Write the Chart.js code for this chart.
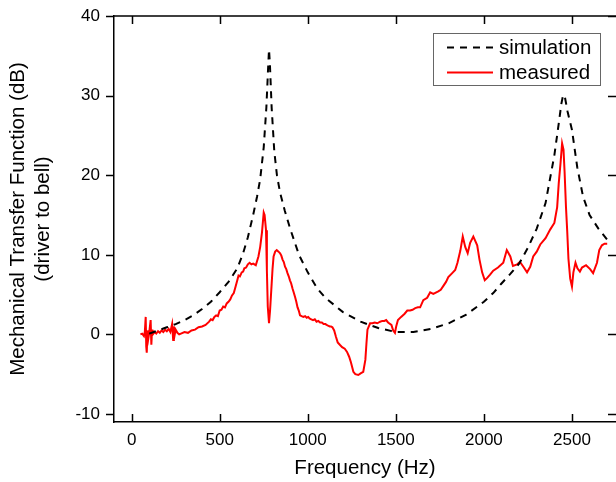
<!DOCTYPE html>
<html>
<head>
<meta charset="utf-8">
<script src="https://cdn.jsdelivr.net/npm/chart.js@4/dist/chart.umd.min.js"></script>
<style>
html,body{margin:0;padding:0;background:#fff;}
canvas{display:block;}
</style>
</head>
<body>
<canvas id="c" width="616" height="482"></canvas>
<script>
// ---- data ----
const xTicks = [0, 500, 1000, 1500, 2000, 2500];
const yTicks = [-10, 0, 10, 20, 30, 40];
const xTitle = "Frequency (Hz)";
const yTitle = ["Mechanical Transfer Function (dB)", "(driver to bell)"];
const seriesNames = ["simulation", "measured"];

const simFreq = [100,150,200,250,300,350,400,450,500,550,600,633,660,690,712,730,750,765,775,780,785,795,810,825,843,870,900,950,1000,1053,1100,1200,1300,1400,1500,1600,1700,1800,1900,2000,2053,2100,2150,2200,2250,2300,2350,2400,2425,2440,2450,2460,2475,2500,2530,2563,2600,2650,2700,2710];
const simDb = [0.1,0.5,0.9,1.3,1.8,2.4,3.2,4.1,5.3,6.6,8.3,10.2,12.2,15.0,17.3,19.5,23.5,28.5,33.5,35.8,34.0,28.5,23.0,20.0,17.8,15.5,13.3,10.0,7.8,5.8,4.6,2.8,1.6,0.8,0.3,0.3,0.7,1.4,2.5,4.1,5.2,6.4,7.6,8.9,10.9,13.3,16.5,22.5,26.5,29.0,30.1,29.8,28.0,25.7,21.0,17.3,15.0,13.3,11.9,11.6];

const measFreq = [50,60,70,75,80,83,86,90,95,100,108,112,116,120,130,140,150,160,170,180,190,200,210,220,230,236,240,245,250,260,270,280,300,320,340,360,380,400,420,440,450,460,470,480,490,500,510,520,530,540,550,560,570,580,590,600,607,615,625,633,640,650,660,670,680,690,705,720,730,740,750,755,763,768,773,780,786,793,800,806,815,824,834,843,850,857,864,871,878,885,892,899,906,913,920,928,935,942,949,956,965,975,985,994,1003,1010,1020,1030,1040,1050,1060,1070,1080,1090,1100,1107,1115,1125,1132,1140,1150,1160,1170,1182,1195,1210,1223,1235,1245,1259,1270,1287,1300,1315,1327,1333,1339,1354,1367,1380,1395,1411,1423,1435,1445,1456,1475,1485,1495,1502,1512,1530,1550,1565,1581,1595,1610,1625,1638,1656,1678,1695,1713,1741,1755,1770,1785,1798,1820,1837,1850,1866,1880,1894,1908,1922,1940,1962,1975,1990,2005,2019,2035,2053,2080,2110,2130,2150,2165,2189,2205,2224,2245,2263,2280,2300,2320,2350,2377,2400,2416,2425,2435,2444,2452,2458,2466,2473,2480,2490,2500,2508,2520,2531,2545,2557,2580,2603,2620,2642,2655,2670,2685,2700,2710];
const measDb = [0.0,0.1,-0.2,0.3,2.2,-1.5,-2.3,0.5,-0.5,0.2,1.8,-1.3,0.6,0.0,0.3,0.1,0.4,0.2,0.5,0.3,0.6,0.4,0.7,0.3,1.3,-0.7,1.0,0.0,0.6,0.2,0.0,0.1,0.3,0.2,0.5,0.6,0.9,1.0,1.2,1.6,1.9,1.8,2.2,2.4,2.3,3.0,3.1,3.5,3.4,3.9,4.1,4.4,4.9,5.2,6.0,6.8,7.4,7.3,7.8,7.9,8.3,8.4,8.8,9.0,8.8,8.9,8.7,9.8,11.0,12.8,15.3,15.0,13.1,8.0,3.5,1.4,3.0,5.6,8.2,9.8,10.4,10.6,10.4,10.2,9.9,9.4,9.1,8.5,8.2,7.7,7.3,6.8,6.4,5.8,5.3,4.7,4.1,3.4,3.0,2.4,2.3,2.2,2.3,2.1,2.2,2.0,1.9,1.8,1.9,1.6,1.7,1.5,1.5,1.3,1.3,1.2,1.1,1.0,1.0,0.9,0.5,-0.3,-1.0,-1.3,-1.6,-1.8,-2.2,-2.8,-3.5,-4.7,-5.0,-5.1,-4.9,-4.7,-3.2,-1.2,0.6,1.4,1.4,1.5,1.4,1.6,1.7,1.7,1.8,1.5,1.2,0.5,0.2,1.0,1.8,2.2,2.6,3.0,3.0,3.1,3.3,3.4,3.4,4.3,4.6,5.3,5.1,5.4,5.6,6.1,6.6,7.2,7.7,8.1,9.0,10.5,12.3,11.0,10.2,11.5,12.3,11.2,9.4,7.8,6.8,7.1,7.5,8.0,8.4,9.0,10.6,9.8,8.6,8.8,9.1,8.5,7.8,8.5,9.8,10.4,11.3,12.1,13.2,14.0,16.0,19.0,21.5,24.0,23.2,20.5,16.0,13.0,9.5,7.0,6.0,7.8,9.0,8.3,7.9,8.4,8.7,8.2,7.7,9.0,10.6,11.2,11.4,11.4];

const xMin = -100, xMax = 2750, yMin = -11, yMax = 40;

const FONT = "'Liberation Sans', Arial, Helvetica, sans-serif";

const toPts = (xs, ys) => xs.map((x, i) => ({x: x, y: ys[i]}));

const zeroPad = s => { s.paddingTop = 0; s.paddingBottom = 0; s.paddingLeft = 0; s.paddingRight = 0; };

// frame with inward ticks on bottom/top/right, outward on left
const framePlugin = {
  id: 'frame',
  afterDraw(chart) {
    const ctx = chart.ctx, a = chart.chartArea;
    const xs = chart.scales.x, ys = chart.scales.y;
    const L = 8;
    const R = chart.width;
    ctx.save();
    ctx.strokeStyle = '#000';
    ctx.lineWidth = 1.5;
    ctx.beginPath();
    ctx.moveTo(a.left, a.top); ctx.lineTo(R, a.top);
    xTicks.forEach(v => {
      const p = Math.round(xs.getPixelForValue(v)) + 0.5;
      ctx.moveTo(p, a.bottom); ctx.lineTo(p, a.bottom - L);
      ctx.moveTo(p, a.top); ctx.lineTo(p, a.top + L);
    });
    yTicks.forEach(v => {
      const p = Math.round(ys.getPixelForValue(v)) + 0.5;
      ctx.moveTo(a.left, p); ctx.lineTo(a.left - L, p);
      ctx.moveTo(R, p); ctx.lineTo(R - L, p);
    });
    ctx.stroke();
    ctx.restore();
  }
};

// legend box drawn inside the plot, from the datasets
const legendPlugin = {
  id: 'boxLegend',
  afterDraw(chart) {
    const ctx = chart.ctx;
    const bx = 433.5, by = 33.5, bw = 167, bh = 52;
    ctx.save();
    ctx.fillStyle = '#fff';
    ctx.fillRect(bx, by, bw, bh);
    ctx.strokeStyle = '#666';
    ctx.lineWidth = 1;
    ctx.setLineDash([]);
    ctx.strokeRect(bx, by, bw, bh);
    ctx.font = "20.5px " + FONT;
    ctx.textBaseline = 'middle';
    ctx.textAlign = 'left';
    chart.data.datasets.forEach((ds, i) => {
      const cy = 47.5 + i * 25;
      ctx.strokeStyle = ds.borderColor;
      ctx.lineWidth = ds.borderWidth;
      ctx.setLineDash(ds.borderDash || []);
      ctx.beginPath();
      ctx.moveTo(447, cy); ctx.lineTo(493, cy);
      ctx.stroke();
      ctx.setLineDash([]);
      ctx.fillStyle = '#000';
      ctx.fillText(ds.label, 499, cy + 1);
    });
    ctx.restore();
  }
};

new Chart(document.getElementById('c'), {
  type: 'scatter',
  data: {
    datasets: [
      {
        label: seriesNames[0],
        data: toPts(simFreq, simDb),
        showLine: true,
        borderColor: '#000000',
        backgroundColor: '#000000',
        borderWidth: 2,
        borderDash: [7, 6],
        pointRadius: 0,
        tension: 0
      },
      {
        label: seriesNames[1],
        data: toPts(measFreq, measDb),
        showLine: true,
        borderColor: '#ff0000',
        backgroundColor: '#ff0000',
        borderWidth: 2,
        pointRadius: 0,
        tension: 0
      }
    ]
  },
  options: {
    responsive: false,
    animation: false,
    devicePixelRatio: 1,
    layout: { padding: { top: 16, right: 0, bottom: 0, left: 0 } },
    plugins: { legend: { display: false }, tooltip: { enabled: false } },
    scales: {
      x: {
        type: 'linear',
        position: 'bottom',
        min: xMin, max: xMax,
        afterBuildTicks: s => { s.ticks = xTicks.map(v => ({value: v})); },
        afterFit: s => { s.height = 60; zeroPad(s); },
        grid: { display: true, drawOnChartArea: false, drawTicks: false },
        border: { display: true, color: '#000', width: 1.5 },
        ticks: {
          color: '#000', padding: 8,
          font: { family: FONT, size: 17 },
          maxRotation: 0, autoSkip: false,
          callback: v => String(v)
        },
        title: {
          display: true, text: xTitle, color: '#000',
          font: { family: FONT, size: 20.5, lineHeight: 1.2 },
          padding: { top: 0, bottom: 1 }
        }
      },
      y: {
        type: 'linear',
        position: 'left',
        min: yMin, max: yMax,
        afterBuildTicks: s => { s.ticks = yTicks.map(v => ({value: v})); },
        afterFit: s => { s.width = 114; zeroPad(s); },
        grid: { display: true, drawOnChartArea: false, drawTicks: false },
        border: { display: true, color: '#000', width: 1.5 },
        ticks: {
          color: '#000', padding: 14,
          font: { family: FONT, size: 17 },
          autoSkip: false,
          callback: v => String(v)
        },
        title: {
          display: true, text: yTitle, color: '#000',
          font: { family: FONT, size: 20.5, lineHeight: 1.2 },
          padding: { top: 6, bottom: 0 }
        }
      }
    }
  },
  plugins: [framePlugin, legendPlugin]
});
</script>
</body>
</html>
